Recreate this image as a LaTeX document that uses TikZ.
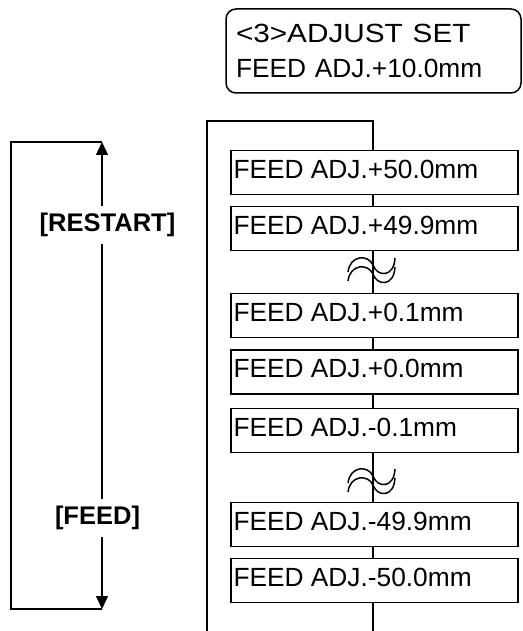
\documentclass[tikz,border=0pt]{standalone}
\usepackage{fontspec}
\usepackage{graphicx}
\setmainfont{Liberation Sans}
\usetikzlibrary{arrows.meta,calc}
\newcommand{\sx}[2]{\scalebox{#1}[1]{#2}}
\begin{document}
\begin{tikzpicture}[x=1pt,y=-1pt,
  every node/.style={inner sep=0pt},
  ln/.style={line width=1.5pt},
  box/.style={draw,line width=1.6pt,fill=white,minimum width=287pt,minimum height=44pt,inner xsep=2.5pt,text height=18.5pt,text depth=7pt,font=\fontsize{26.3}{30}\selectfont},
  lbl/.style={font=\fontsize{25.5}{30}\selectfont\bfseries,minimum height=38pt},
  arr/.style={ln,-{Triangle[length=13pt,width=12pt]}},
  wavy/.pic={
    \draw[line width=1.5pt] (-24,2) .. controls (-22,-15) and (-4,-16) .. (1,-5) .. controls (5,7) and (22,8) .. (23,-12);
    \draw[line width=1.5pt] (-24,11) .. controls (-22,-6) and (-4,-7) .. (1,4) .. controls (5,16) and (22,17) .. (23,-3);
  }
]
\useasboundingbox (0,0) rectangle (522,631);

% header box
\node[draw,ln,rounded corners=10pt,minimum width=295pt,minimum height=84pt,text width=275pt,align=left,font=\fontsize{26.3}{35}\selectfont] (hdr) at (373.5,51) {\sx{1.13}{<3>ADJUST SET}\\FEED ADJ.+10.0mm};

% frame
\coordinate (fb) at (207,631);
\coordinate (ft) at (207,121);
\coordinate (ct) at (373,121);
\coordinate (cb) at (373,631);

% boxes
\node[box] (b1) at (374.5,172.5) {\makebox[282pt][l]{FEED ADJ.+50.0mm}};
\node[box] (b2) at (374.5,228.5) {\makebox[282pt][l]{FEED ADJ.+49.9mm}};
\node[box] (b3) at (374.5,315.5) {\makebox[282pt][l]{FEED ADJ.+0.1mm}};
\node[box] (b4) at (374.5,372) {\makebox[282pt][l]{FEED ADJ.+0.0mm}};
\node[box] (b5) at (374.5,430.5) {\makebox[282pt][l]{FEED ADJ.-0.1mm}};
\node[box] (b6) at (374.5,524.5) {\makebox[282pt][l]{FEED ADJ.-49.9mm}};
\node[box] (b7) at (374.5,580.5) {\makebox[282pt][l]{FEED ADJ.-50.0mm}};

\draw[ln] (fb) -- (ft) -- (ct) -- (b1.north -| ct);
\draw[ln] (b1.south -| ct) -- (b2.north -| ct);
\draw[ln] (b2.south -| ct) -- (b3.north -| ct);
\draw[ln] (b3.south -| ct) -- (b4.north -| ct);
\draw[ln] (b4.south -| ct) -- (b5.north -| ct);
\draw[ln] (b5.south -| ct) -- (b6.north -| ct);
\draw[ln] (b6.south -| ct) -- (b7.north -| ct);
\draw[ln] (b7.south -| ct) -- (cb);

\pic at (372,270) {wavy};
\pic at (372,481) {wavy};

% left loop
\coordinate (up) at (102,142);
\coordinate (dn) at (102,609);
\coordinate (ul) at (11,142);
\coordinate (dl) at (11,609);
\node[lbl] (restart) at (107.5,225) {[RESTART]};
\node[lbl] (feed) at (97.5,518) {[FEED]};
\draw[arr] (restart.north -| up) -- (up);
\draw[ln] (restart.south -| up) -- (feed.north -| up);
\draw[arr] (feed.south -| dn) -- (dn);
\draw[ln] (up) -- (ul) -- (dl) -- (dn);
\end{tikzpicture}
\end{document}
